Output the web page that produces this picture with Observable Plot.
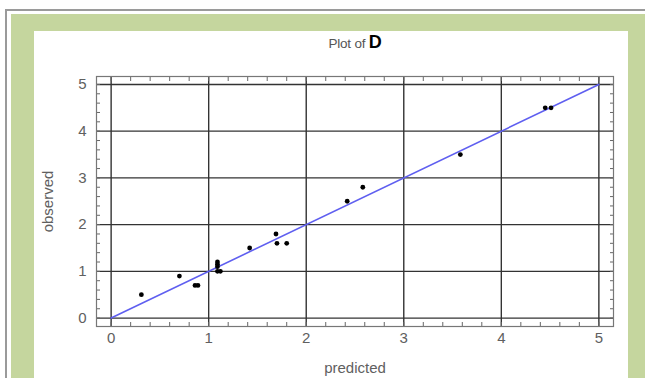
<!DOCTYPE html>
<html>
<head>
<meta charset="utf-8">
<script src="https://cdn.jsdelivr.net/npm/d3@7"></script>
<script src="https://cdn.jsdelivr.net/npm/@observablehq/plot@0.6"></script>
<style>
  html, body { margin: 0; padding: 0; background: #fff; width: 645px; height: 378px; overflow: hidden; font-family: "Liberation Sans", Arial, sans-serif; }
  #outer { position: absolute; left: 5px; top: 9px; width: 660px; height: 400px; border-left: 2px solid #9a9a9a; border-top: 2px solid #9a9a9a; }
  #green { position: absolute; left: 11px; top: 14px; width: 660px; height: 400px; background: #c5d69e; }
  #white { position: absolute; left: 34px; top: 31px; width: 594px; height: 400px; background: #fff; }
  #chart { position: absolute; left: 0; top: 0; }
  #title { position: absolute; left: 0; width: 710px; top: 32px; text-align: center; font-size: 13.5px; color: #555; letter-spacing: -0.2px; }
  #title b { font-size: 18px; color: #000; }
</style>
</head>
<body>
<div id="outer"></div>
<div id="green"></div>
<div id="white"></div>
<div id="title">Plot of <b>D</b></div>
<div id="chart"></div>
<script>
const predicted = [0.31, 0.70, 0.86, 0.89, 1.09, 1.09, 1.09, 1.09, 1.12, 1.42, 1.69, 1.70, 1.80, 2.42, 2.58, 3.58, 4.45, 4.51];
const observed  = [0.50, 0.90, 0.70, 0.70, 1.20, 1.15, 1.10, 1.00, 1.00, 1.50, 1.80, 1.60, 1.60, 2.50, 2.80, 3.50, 4.50, 4.50];
const fitX = [0, 5];
const fitY = [0, 5];
const majorTicks = [0, 1, 2, 3, 4, 5];
const minorTicks = [0, 0.2, 0.4, 0.6, 0.8, 1, 1.2, 1.4, 1.6, 1.8, 2, 2.2, 2.4, 2.6, 2.8, 3, 3.2, 3.4, 3.6, 3.8, 4, 4.2, 4.4, 4.6, 4.8, 5];

const points = predicted.map((p, i) => ({predicted: p, observed: observed[i]}));
const fit = fitX.map((x, i) => ({x, y: fitY[i]}));

const blank = () => "";
const tickStyle = {stroke: "#666", strokeWidth: 1, tickFormat: blank, label: null, tickSize: 4};
const labelStyle = {tickSize: 0, tickFormat: "d", labelAnchor: "center", labelArrow: "none", fill: "#606060", fontSize: 15};
const chart = Plot.plot({
  width: 645,
  height: 378,
  marginLeft: 96,
  marginRight: 32,
  marginTop: 76,
  marginBottom: 52,
  style: {background: "transparent", fontFamily: "Liberation Sans, Arial, sans-serif", fontSize: "14.5px", color: "#555"},
  x: {domain: [-0.15, 5.15]},
  y: {domain: [-0.18, 5.17]},
  marks: [
    Plot.ruleX(majorTicks, {stroke: "#333", strokeWidth: 1.4}),
    Plot.ruleY(majorTicks, {stroke: "#333", strokeWidth: 1.4}),
    Plot.axisX({anchor: "bottom", ticks: minorTicks, dy: -4, ...tickStyle}),
    Plot.axisX({anchor: "top", ticks: minorTicks, dy: 4, ...tickStyle}),
    Plot.axisY({anchor: "left", ticks: minorTicks, dx: 4, ...tickStyle}),
    Plot.axisY({anchor: "right", ticks: minorTicks, dx: -4, ...tickStyle}),
    Plot.axisX({anchor: "bottom", ticks: majorTicks, tickPadding: 6, label: "predicted", labelOffset: 46, ...labelStyle}),
    Plot.axisY({anchor: "left", ticks: majorTicks, tickPadding: 10, label: "observed", labelOffset: 54, ...labelStyle}),
    Plot.frame({stroke: "#777", strokeWidth: 1.2}),
    Plot.line(fit, {x: "x", y: "y", stroke: "#5f5ff0", strokeWidth: 1.6}),
    Plot.dot(points, {x: "predicted", y: "observed", r: 2.4, fill: "#000"})
  ]
});
document.getElementById("chart").appendChild(chart);
</script>
</body>
</html>
